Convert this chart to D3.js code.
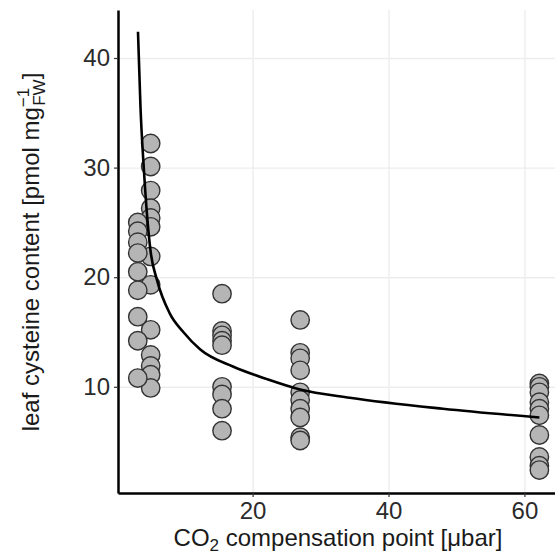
<!DOCTYPE html>
<meta charset="utf-8">

<style>
  body { margin: 0; background: #fff; }
  svg { font-family: "Liberation Sans", Arial, sans-serif; }
  .grid line { stroke: #ededed; stroke-width: 1.4px; }
  .grid .domain { display: none; }
  .axis .domain { stroke: #000; stroke-width: 2.5px; }
  .axis .tick line { stroke: #333; stroke-width: 1.2px; }
  .axis .tick text { fill: #2b2b2b; font-size: 24px; }
  .pts circle { fill: #b5b5b5; stroke: #333; stroke-width: 1.4px; }
</style>

<svg width="555" height="560"></svg>

<script src="https://d3js.org/d3.v7.min.js"></script>
<script>
// ====================================================================
// x position of each genotype (CO2 compensation point, µbar)
const genotypeX = [5.0, 3.1, 15.5, 27.0, 62.2]

// leaf cysteine per genotype (pmol / mg FW)
const cysteine = [
    [32.2, 30.1, 27.9, 26.3, 25.4, 24.6, 21.9, 19.3, 15.2, 12.9, 11.9, 11.1, 9.9],
    [25.0, 24.2, 23.2, 22.2, 20.5, 18.8, 16.4, 14.2, 10.8],
    [18.5, 15.1, 14.7, 14.2, 13.8, 10.0, 9.3, 8.0, 6.0],
    [16.1, 13.1, 12.6, 11.5, 9.5, 8.8, 8.0, 7.2, 5.4, 5.1],
    [10.3, 10.0, 9.5, 8.6, 8.0, 7.4, 5.6, 3.6, 2.8, 2.4]
]

// fitted curve
const fitX = [3.13, 3.5, 4.0, 4.5, 5.0, 5.9, 7.8, 9.8, 12.3, 17.1, 22.1, 27.0, 34.3, 48.0, 62.2]
const fitY = [42.4, 35.5, 29.8, 25.4, 22.3, 19.8, 16.7, 15.0, 13.4, 11.85, 10.7, 9.75, 9.0, 8.0, 7.2]

const xTicks = [20, 40, 60]
const yTicks = [10, 20, 30, 40]

// ====================================================================
const svg = d3.select("svg")
const pLeft = 118, pRight = 555, pTop = 10, pBottom = 493

const x = d3.scaleLinear().domain([0.19, 64.5]).range([pLeft, pRight])
const y = d3.scaleLinear().domain([0.31, 44.38]).range([pBottom, pTop])

//grid
svg.append("g")
    .attr("class", "grid")
    .attr("transform", `translate(0,${pBottom})`)
    .call(d3.axisBottom(x).tickValues(xTicks).tickSize(-(pBottom - pTop)).tickFormat(""))
svg.append("g")
    .attr("class", "grid")
    .attr("transform", `translate(${pLeft},0)`)
    .call(d3.axisLeft(y).tickValues(yTicks).tickSize(-(pRight - pLeft)).tickFormat(""))

//points
const pts = []
cysteine.forEach((vals, i) => vals.forEach(v => pts.push({x: genotypeX[i], y: v})))

svg.append("g")
    .attr("class", "pts")
    .selectAll("circle")
    .data(pts)
    .enter()
    .append("circle")
    .attr("cx", d => x(d.x))
    .attr("cy", d => y(d.y))
    .attr("r", 9.2)

//fit line
const line = d3.line()
    .x((d, i) => x(fitX[i]))
    .y(d => y(d))
    .curve(d3.curveMonotoneX)

svg.append("path")
    .datum(fitY)
    .attr("d", line)
    .attr("fill", "none")
    .attr("stroke", "#000")
    .attr("stroke-width", 2.6)

//axes
svg.append("g")
    .attr("class", "axis")
    .attr("transform", `translate(0,${pBottom})`)
    .call(d3.axisBottom(x).tickValues(xTicks).tickSizeInner(4).tickSizeOuter(0).tickPadding(5))
svg.append("g")
    .attr("class", "axis")
    .attr("transform", `translate(${pLeft},0)`)
    .call(d3.axisLeft(y).tickValues(yTicks).tickSizeInner(4).tickSizeOuter(0).tickPadding(4))

//axis titles
const xt = svg.append("text")
    .attr("x", 338)
    .attr("y", 546)
    .attr("text-anchor", "middle")
    .attr("font-size", 24)
    .attr("fill", "#1a1a1a")
xt.append("tspan").text("CO")
xt.append("tspan").text("2").attr("font-size", 17).attr("dy", 5)
xt.append("tspan").text(" compensation point [μbar]").attr("dy", -5)

const yt = svg.append("text")
    .attr("transform", "translate(39,252) rotate(-90)")
    .attr("text-anchor", "middle")
    .attr("font-size", 24)
    .attr("fill", "#1a1a1a")
yt.append("tspan").text("leaf cysteine content [pmol mg")
yt.append("tspan").text("−1").attr("font-size", 17).attr("dy", -10)
yt.append("tspan").text("FW").attr("font-size", 17).attr("dx", -18).attr("dy", 16)
yt.append("tspan").text("]").attr("dy", -6)

</script>
